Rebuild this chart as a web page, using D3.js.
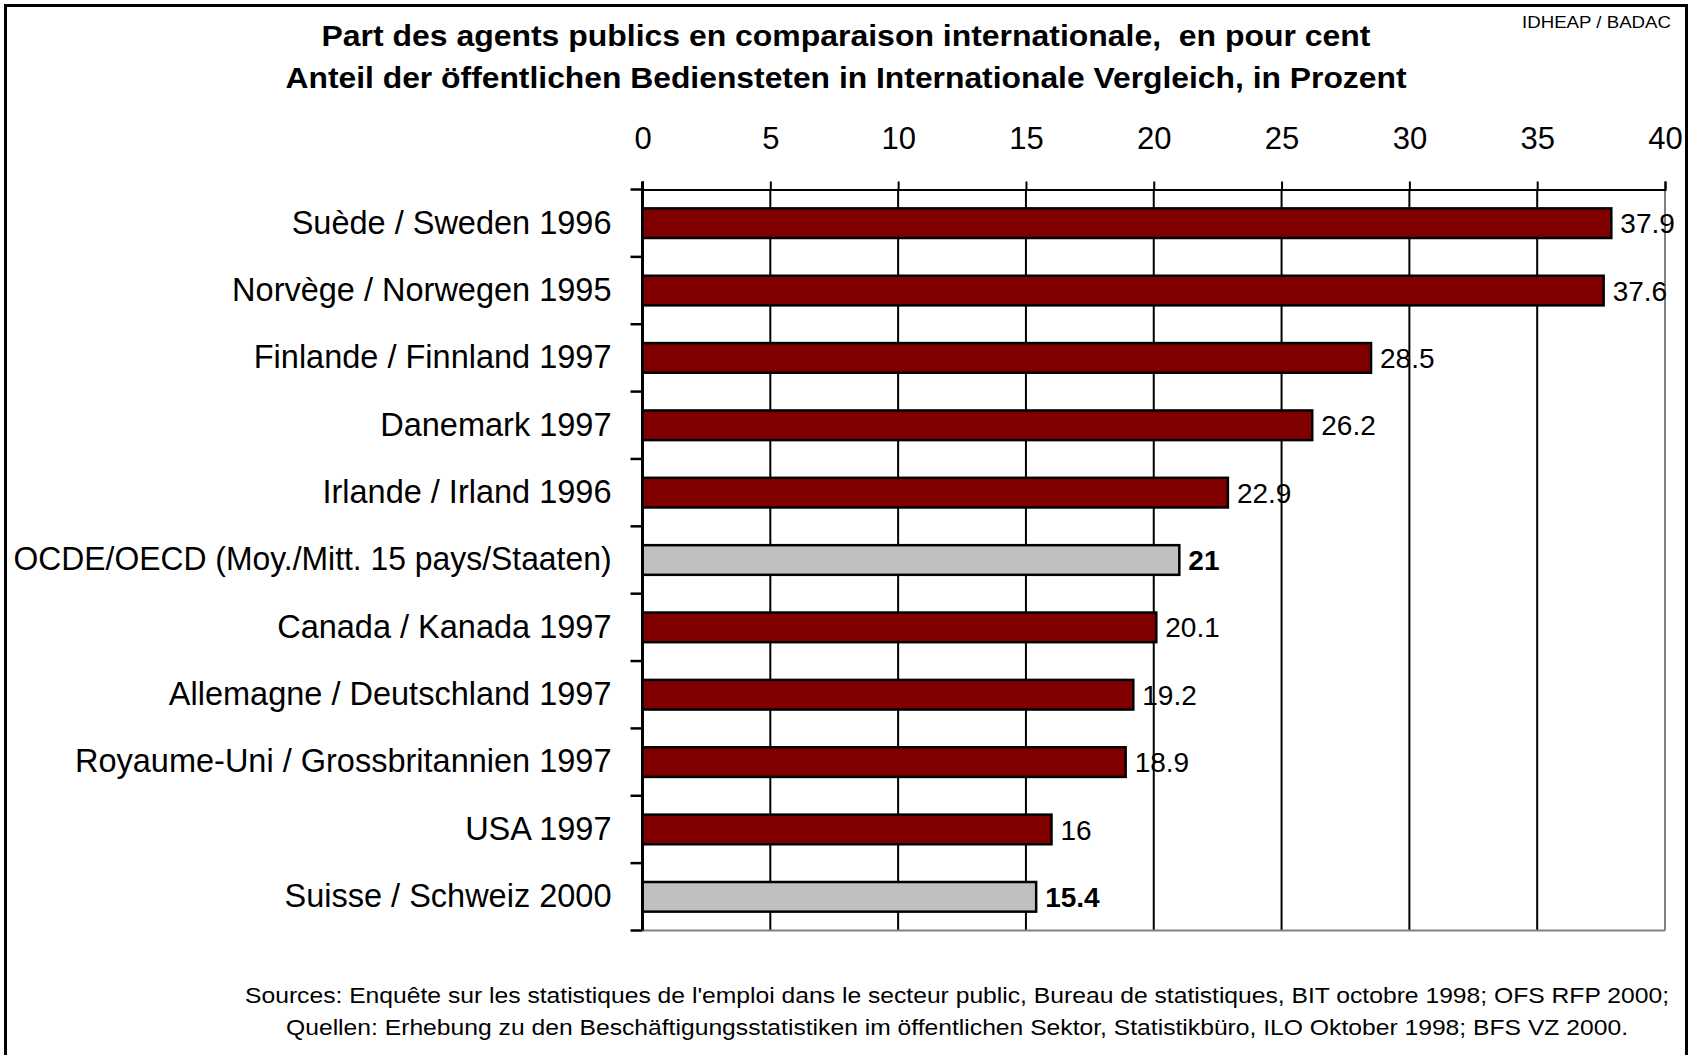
<!DOCTYPE html>
<html>
<head>
<meta charset="utf-8">
<script src="https://cdn.jsdelivr.net/npm/d3@7"></script>
<style>
  body { margin: 0; background: #fff; }
  text { font-family: "Liberation Sans", Arial, sans-serif; fill: #000; }
</style>
</head>
<body>
<script>
// Data
var categories = [
  "Suède / Sweden 1996",
  "Norvège / Norwegen 1995",
  "Finlande / Finnland 1997",
  "Danemark 1997",
  "Irlande / Irland 1996",
  "OCDE/OECD (Moy./Mitt. 15 pays/Staaten)",
  "Canada / Kanada 1997",
  "Allemagne / Deutschland 1997",
  "Royaume-Uni / Grossbritannien 1997",
  "USA 1997",
  "Suisse / Schweiz 2000"
];
var values = [37.9, 37.6, 28.5, 26.2, 22.9, 21, 20.1, 19.2, 18.9, 16, 15.4];
var highlighted = ["OCDE/OECD (Moy./Mitt. 15 pays/Staaten)", "Suisse / Schweiz 2000"];
var xTicks = [0, 5, 10, 15, 20, 25, 30, 35, 40];

var titleLines = [
  "Part des agents publics en comparaison internationale,  en pour cent",
  "Anteil der öffentlichen Bediensteten in Internationale Vergleich, in Prozent"
];
var sourceLines = [
  "Sources: Enquête sur les statistiques de l'emploi dans le secteur public, Bureau de statistiques, BIT octobre 1998; OFS RFP 2000;",
  "Quellen: Erhebung zu den Beschäftigungsstatistiken im öffentlichen Sektor, Statistikbüro, ILO Oktober 1998; BFS VZ 2000."
];
var credit = "IDHEAP / BADAC";

// Layout
var W = 1694, H = 1055;
var plot = {left: 642.5, right: 1665, top: 189.5, bottom: 930.5};

var svg = d3.select("body").append("svg")
  .attr("width", W)
  .attr("height", H);

// Outer frame
svg.append("rect")
  .attr("x", 5.5).attr("y", 5.5)
  .attr("width", 1681).attr("height", H + 20)
  .attr("fill", "none")
  .attr("stroke", "#000")
  .attr("stroke-width", 3);

// Scales
var x = d3.scaleLinear()
  .domain([0, 40])
  .range([plot.left, plot.right]);

var y = d3.scaleBand()
  .domain(categories)
  .range([plot.top, plot.bottom])
  .paddingInner(0.56)
  .paddingOuter(0.28);

var step = y.step();

// Gridlines
svg.append("g")
  .selectAll("line")
  .data(xTicks.slice(1, -1))
  .enter().append("line")
  .attr("x1", function (d) { return x(d); })
  .attr("x2", function (d) { return x(d); })
  .attr("y1", plot.top)
  .attr("y2", plot.bottom)
  .attr("stroke", "#000")
  .attr("stroke-width", 2);

// Right and bottom plot borders (gray)
svg.append("line")
  .attr("x1", x(40)).attr("x2", x(40))
  .attr("y1", plot.top).attr("y2", plot.bottom)
  .attr("stroke", "#808080").attr("stroke-width", 2);
svg.append("line")
  .attr("x1", plot.left).attr("x2", x(40))
  .attr("y1", plot.bottom).attr("y2", plot.bottom)
  .attr("stroke", "#808080").attr("stroke-width", 2);

// Top axis
var xAxis = svg.append("g")
  .attr("transform", "translate(0," + plot.top + ")")
  .call(d3.axisTop(x).tickValues(xTicks).tickSize(8).tickPadding(33).tickFormat(d3.format("d")));
xAxis.select(".domain")
  .attr("stroke", "#000").attr("stroke-width", 2);
xAxis.selectAll(".tick line")
  .attr("stroke", "#000").attr("stroke-width", 2);
xAxis.selectAll(".tick text")
  .style("font-family", "Liberation Sans, Arial, sans-serif")
  .style("font-size", "31px")
  .attr("fill", "#000");

// Bars
svg.append("g")
  .selectAll("rect")
  .data(categories)
  .enter().append("rect")
  .attr("x", x(0))
  .attr("y", function (d) { return y(d); })
  .attr("width", function (d, i) { return x(values[i]) - x(0); })
  .attr("height", y.bandwidth())
  .attr("fill", function (d) {
    return highlighted.indexOf(d) >= 0 ? "#c0c0c0" : "#800000";
  })
  .attr("stroke", "#000")
  .attr("stroke-width", 2.5);

// Left axis
var yAxis = svg.append("g")
  .attr("transform", "translate(" + plot.left + ",0)")
  .call(d3.axisLeft(y).tickSize(0).tickPadding(31));
yAxis.select(".domain").remove();
yAxis.selectAll(".tick text")
  .style("font-family", "Liberation Sans, Arial, sans-serif")
  .style("font-size", "32.5px")
  .attr("fill", "#000")
  .each(function () {
    // keep the long label inside the frame, as in the original
    if (this.getComputedTextLength() > 598) {
      d3.select(this)
        .attr("textLength", 598)
        .attr("lengthAdjust", "spacingAndGlyphs");
    }
  });

// Category separator ticks at band boundaries
var boundaries = d3.range(categories.length + 1).map(function (i) {
  return plot.top + i * step;
});
svg.append("g")
  .selectAll("line")
  .data(boundaries)
  .enter().append("line")
  .attr("x1", plot.left - 12)
  .attr("x2", plot.left)
  .attr("y1", function (d) { return d; })
  .attr("y2", function (d) { return d; })
  .attr("stroke", "#000")
  .attr("stroke-width", 2.5);

svg.append("line")
  .attr("x1", plot.left).attr("x2", plot.left)
  .attr("y1", plot.top - 8).attr("y2", plot.bottom)
  .attr("stroke", "#000").attr("stroke-width", 3);

// Value labels
svg.append("g")
  .selectAll("text")
  .data(categories)
  .enter().append("text")
  .attr("x", function (d, i) { return x(values[i]) + 9; })
  .attr("y", function (d) { return y(d) + y.bandwidth() / 2; })
  .attr("dy", "0.36em")
  .style("font-size", "28px")
  .style("font-weight", function (d) {
    return highlighted.indexOf(d) >= 0 ? "bold" : "normal";
  })
  .text(function (d, i) { return d3.format("")(values[i]); });

// Title
var titleY = [46, 88];
var titleLen = [1049, 1121];
svg.append("g")
  .selectAll("text")
  .data(titleLines)
  .enter().append("text")
  .attr("x", 846)
  .attr("y", function (d, i) { return titleY[i]; })
  .attr("text-anchor", "middle")
  .attr("textLength", function (d, i) { return titleLen[i]; })
  .attr("lengthAdjust", "spacingAndGlyphs")
  .style("white-space", "pre")
  .style("font-size", "29px")
  .style("font-weight", "bold")
  .text(function (d) { return d; });

// Credit
svg.append("text")
  .attr("x", 1671)
  .attr("y", 28)
  .attr("text-anchor", "end")
  .attr("textLength", 149)
  .attr("lengthAdjust", "spacingAndGlyphs")
  .style("font-size", "17px")
  .text(credit);

// Sources
var srcY = [1003, 1035];
var srcLen = [1424, 1342];
svg.append("g")
  .selectAll("text")
  .data(sourceLines)
  .enter().append("text")
  .attr("x", 957)
  .attr("y", function (d, i) { return srcY[i]; })
  .attr("text-anchor", "middle")
  .attr("textLength", function (d, i) { return srcLen[i]; })
  .attr("lengthAdjust", "spacingAndGlyphs")
  .style("font-size", "22px")
  .text(function (d) { return d; });
</script>
</body>
</html>
